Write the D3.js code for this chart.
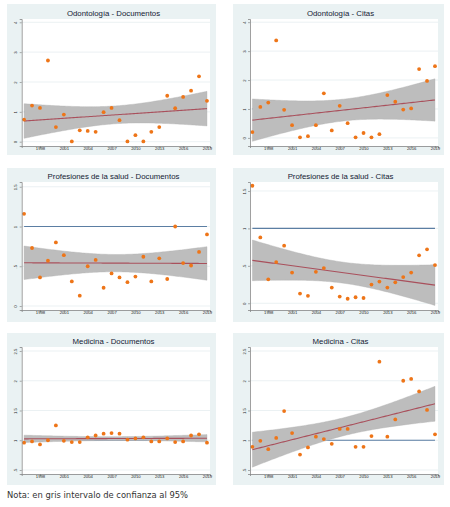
<!DOCTYPE html>
<html><head><meta charset="utf-8">
<script src="https://cdn.jsdelivr.net/npm/d3@7"></script>
<style>body{margin:0;background:#fff}svg{display:block}</style>
</head><body>
<svg id="c" width="450" height="507"></svg>
<script>
// ---- data ----
const years = [1996,1997,1998,1999,2000,2001,2002,2003,2004,2005,2006,2007,2008,2009,2010,2011,2012,2013,2014,2015,2016,2017,2018,2019];
const xTickYears = [1998,2001,2004,2007,2010,2013,2016,2019];

const odontDocs = [0.74,1.21,1.13,2.72,0.49,0.91,0.01,0.38,0.36,0.33,0.99,1.13,0.72,0.01,0.22,0.01,0.33,0.49,1.54,1.12,1.50,1.71,2.19,1.37];
const odontCitas = [0.20,1.07,1.22,3.37,0.97,0.44,0.02,0.06,0.44,1.54,0.26,1.11,0.51,0.02,0.17,0.02,0.13,1.48,1.25,0.98,1.02,2.38,1.97,2.48];
const profDocs = [1.16,0.73,0.36,0.57,0.80,0.64,0.31,0.13,0.50,0.58,0.23,0.41,0.36,0.30,0.37,0.62,0.31,0.60,0.34,1.00,0.54,0.51,0.68,0.90];
const profCitas = [1.57,0.88,0.32,0.55,0.77,0.41,0.13,0.10,0.42,0.47,0.21,0.09,0.06,0.08,0.07,0.25,0.29,0.21,0.28,0.35,0.41,0.64,0.72,0.51];
const medDocs = [0.96,0.98,0.93,1.00,1.25,0.99,0.97,0.97,1.05,1.08,1.11,1.12,1.11,1.01,1.03,1.05,0.98,0.98,1.03,0.97,0.98,1.08,1.10,0.96];
const medCitas = [0.89,0.99,0.85,1.04,1.49,1.12,0.76,0.88,1.06,1.02,0.94,1.19,1.19,0.89,0.89,1.07,2.32,1.06,1.35,2.00,2.03,1.82,1.51,1.10];

const titles = ["Odontología - Documentos","Odontología - Citas","Profesiones de la salud - Documentos","Profesiones de la salud - Citas","Medicina - Documentos","Medicina - Citas"];
const seriesList = [odontDocs, odontCitas, profDocs, profCitas, medDocs, medCitas];
const yTicks = [[0,1,2,3,4],[0,1,2,3,4],[0,0.5,1,1.5],[0,0.5,1,1.5],[0.5,1,1.5,2,2.5],[0.5,1,1.5,2,2.5]];
const yTickLabels = [["0","1","2","3","4"],["0","1","2","3","4"],["0",".5","1","1.5"],["0",".5","1","1.5"],[".5","1","1.5","2","2.5"],[".5","1","1.5","2","2.5"]];
const yDomains = [[-0.144,4.11],[-0.28,4.11],[-0.05,1.56],[-0.09,1.62],[0.433,2.567],[0.433,2.567]];
const refValue = 1;
const note = "Nota: en gris intervalo de confianza al 95%";

// ---- layout ----
const colBg = [[7,216],[233,444]];
const colPlot = [[21.7,210],[250,438]];
const rowBg = [[4,155],[168,322],[333,485]];
const rowPlot = [[19,146],[182,310],[347,474]];
const tCrit = 2.0739; // t(0.975, 22)

const svg = d3.select("#c");

function regress(xs, ys){
  const n = xs.length, mx = d3.mean(xs), my = d3.mean(ys);
  let sxx = 0, sxy = 0;
  xs.forEach((x,i)=>{ sxx += (x-mx)*(x-mx); sxy += (x-mx)*(ys[i]-my); });
  const b = sxy/sxx, a = my - b*mx;
  let sse = 0;
  xs.forEach((x,i)=>{ const r = ys[i] - (a + b*x); sse += r*r; });
  const s = Math.sqrt(sse/(n-2));
  return {a,b,s,mx,sxx,n};
}

seriesList.forEach((vals, k) => {
  const col = k % 2, row = Math.floor(k / 2);
  const g = svg.append("g");
  g.append("rect").attr("x", colBg[col][0]).attr("y", rowBg[row][0])
    .attr("width", colBg[col][1]-colBg[col][0]).attr("height", rowBg[row][1]-rowBg[row][0])
    .attr("fill", "#eaf2f3");
  const x0 = colPlot[col][0], x1 = colPlot[col][1], y0 = rowPlot[row][0], y1 = rowPlot[row][1];
  g.append("rect").attr("x", x0).attr("y", y0).attr("width", x1-x0).attr("height", y1-y0).attr("fill", "#fff");

  const x = d3.scaleLinear().domain([1995.7, 2019.38]).range([x0, x1]);
  const y = d3.scaleLinear().domain(yDomains[k]).range([y1, y0]);

  g.append("text").attr("x", (colBg[col][0]+colBg[col][1])/2 + 2).attr("y", y0 - 3)
    .attr("text-anchor", "middle").attr("font-family", "Liberation Sans, Arial, sans-serif")
    .attr("font-size", 7.8).attr("fill", "#141a33").text(titles[k]);

  g.selectAll(".grid").data(yTicks[k]).enter().append("line")
    .attr("x1", x0).attr("x2", x1).attr("y1", d=>y(d)).attr("y2", d=>y(d))
    .attr("stroke", "#e6eef0").attr("stroke-width", 0.8);

  g.append("line").attr("x1", x(years[0])).attr("x2", x(years[years.length-1]))
    .attr("y1", y(refValue)).attr("y2", y(refValue))
    .attr("stroke", "#5b7ea3").attr("stroke-width", 1.2);

  const r = regress(years, vals);
  const grid = d3.range(0, 101).map(i => years[0] + i*(years[years.length-1]-years[0])/100);
  const band = grid.map(xx => {
    const yh = r.a + r.b*xx;
    const se = r.s*Math.sqrt(1/r.n + (xx-r.mx)*(xx-r.mx)/r.sxx);
    return {x: xx, lo: yh - tCrit*se, hi: yh + tCrit*se, yh};
  });
  g.append("path").datum(band)
    .attr("d", d3.area().x(d=>x(d.x)).y0(d=>y(d.lo)).y1(d=>y(d.hi)))
    .attr("fill", "#bdbdbd").attr("stroke", "#b0b0b0").attr("stroke-width", 0.4);
  g.append("path").datum(band)
    .attr("d", d3.line().x(d=>x(d.x)).y(d=>y(d.yh)))
    .attr("fill", "none").attr("stroke", "#a9505c").attr("stroke-width", 1.1);

  g.selectAll(".pt").data(vals).enter().append("circle")
    .attr("cx", (d,i)=>x(years[i])).attr("cy", d=>y(d)).attr("r", 1.9)
    .attr("fill", "#ee7518");

  const ya = d3.axisLeft(y).tickValues(yTicks[k]).tickSize(2).tickFormat((d,i)=>yTickLabels[k][i]);
  const yg = g.append("g").attr("transform", `translate(${x0},0)`).call(ya);
  yg.select(".domain").attr("stroke", "#777").attr("stroke-width", 0.7);
  yg.selectAll(".tick line").attr("stroke", "#777").attr("stroke-width", 0.6);
  yg.selectAll(".tick text").attr("font-size", 4.2).attr("fill", "#222")
    .attr("font-family", "Liberation Sans, Arial, sans-serif")
    .attr("transform", "rotate(-90)").attr("x", 0).attr("y", -4.5)
    .attr("dy", 0).attr("text-anchor", "middle");

  const xa = d3.axisBottom(x).tickValues(xTickYears).tickSize(2).tickFormat(d3.format("d"));
  const xg = g.append("g").attr("transform", `translate(0,${y1})`).call(xa);
  xg.select(".domain").attr("stroke", "#777").attr("stroke-width", 0.7);
  xg.selectAll(".tick line").attr("stroke", "#777").attr("stroke-width", 0.6);
  xg.selectAll(".tick text").attr("font-size", 4.2).attr("fill", "#222")
    .attr("font-family", "Liberation Sans, Arial, sans-serif").attr("y", 1.5).attr("dy", "0.71em");
});

svg.append("text").attr("x", 7).attr("y", 498)
  .attr("font-family", "DejaVu Sans, Verdana, sans-serif").attr("font-size", 8.4)
  .attr("fill", "#333").text(note);
</script>
</body></html>
